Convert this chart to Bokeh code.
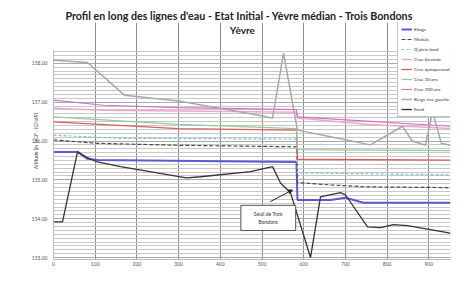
from bokeh.plotting import figure
from bokeh.models import (Range1d, FixedTicker, NumeralTickFormatter, Legend, LegendItem,
                          Label, Arrow, NormalHead, Title)
from bokeh.embed import file_html
from bokeh.resources import INLINE

# ---------------- data (distance m, altitude m NGF) ----------------
x_ticks = [0, 100, 200, 300, 400, 500, 600, 700, 800, 900]
y_ticks = [153, 154, 155, 156, 157, 158]
y_min, y_max = 152.95, 158.33

etiage_x = [0, 57.6, 81.5, 105.5, 582.7, 585.0, 664.3, 700.2, 743.4, 952]
etiage_y = [155.72, 155.72, 155.54, 155.51, 155.46, 154.48, 154.48, 154.54, 154.41, 154.41]

module_x = [0, 105.5, 300, 582.7, 585.0, 664.3, 750, 952]
module_y = [156.03, 155.94, 155.89, 155.85, 154.93, 154.87, 154.82, 154.80]

pleinbord_x = [0, 160, 582.7, 585.0, 952]
pleinbord_y = [156.15, 156.07, 156.05, 155.18, 155.13]

biennale_x = [0, 120, 300, 582.7, 585.0, 750, 952]
biennale_y = [156.84, 156.79, 156.77, 156.74, 156.59, 156.43, 156.32]

quinq_x = [0, 300, 582.7, 585.0, 952]
quinq_y = [156.49, 156.32, 156.28, 155.53, 155.51]

dix_x = [0, 300, 582.7, 585.0, 952]
dix_y = [156.62, 156.43, 156.32, 155.78, 155.75]

cent_x = [0, 120, 300, 582.7, 585.0, 750, 952]
cent_y = [157.05, 156.92, 156.86, 156.81, 156.62, 156.51, 156.38]

berge_x = [0, 81.5, 170, 300, 472.4, 525.2, 551.6, 585.0, 664.3, 760.2, 836.9, 860, 892, 909, 930, 952]
berge_y = [158.08, 158.02, 157.18, 157.03, 156.70, 156.59, 158.26, 156.28, 156.11, 155.90, 156.38, 156.00, 155.89, 156.76, 155.94, 155.89]

fond_x = [0, 21.6, 57.6, 81.5, 105.5, 160.7, 318.9, 352.5, 472.4, 525.2, 544.4, 568.3,
          616.3, 640.3, 688.2, 700.2, 753.0, 784.2, 815.3, 848.9, 944.8, 952]
fond_y = [153.92, 153.92, 155.72, 155.57, 155.46, 155.34, 155.05, 155.08, 155.21, 155.34, 154.92, 154.67,
          153.00, 154.56, 154.67, 154.61, 153.79, 153.77, 153.85, 153.82, 153.64, 153.62]

labels = ["Etiage", "Module", "Q plein bord", "Crue biennale", "Crue quinquennale",
          "Crue 10 ans", "Crue 100 ans", "Berge rive gauche", "Fond"]

title1 = "Profil en long des lignes d'eau - Etat Initial  - Yèvre médian - Trois Bondons"
title2 = "Yèvre"
ytitle = "Altitude (m NGF - IGN69)"
annot = "Seuil de Trois\nBondons"

FONT = "Lato"

p = figure(width=453, height=268, output_backend="svg", toolbar_location=None,
           x_range=Range1d(0, 952), y_range=Range1d(y_min, 159.05),
           min_border_left=53, min_border_right=3, min_border_bottom=4, min_border_top=22,
           background_fill_color="white", border_fill_color="white")

p.add_layout(Title(text=title1, align="left", offset=12, text_font=FONT, text_font_size="10.7px",
                   text_font_style="bold", text_color="#222222", standoff=2), "above")

p.outline_line_color = None

# grids (limited to the data area below the second title line)
p.xgrid.ticker = FixedTicker(ticks=x_ticks)
p.xgrid.grid_line_color = "#8c8c8c"
p.xgrid.grid_line_width = 1
p.xgrid.bounds = (y_min, y_max)
p.ygrid.ticker = FixedTicker(ticks=y_ticks, minor_ticks=[153 + i * 0.1 for i in range(54)])
p.ygrid.grid_line_color = "#aaaaaa"
p.ygrid.minor_grid_line_color = "#c8c8c8"
p.ygrid.minor_grid_line_width = 1

# axes
p.xaxis.ticker = FixedTicker(ticks=x_ticks)
p.yaxis.ticker = FixedTicker(ticks=y_ticks)
p.yaxis.formatter = NumeralTickFormatter(format="0.00")
p.yaxis.bounds = (y_min, y_max)
for ax in (p.xaxis[0], p.yaxis[0]):
    ax.axis_line_color = "#bbbbbb"
    ax.major_tick_line_color = None
    ax.minor_tick_line_color = None
    ax.major_tick_out = 0
    ax.minor_tick_out = 0
    ax.major_tick_in = 0
    ax.minor_tick_in = 0
    ax.major_label_text_font = FONT
    ax.major_label_text_font_size = "5px"
    ax.major_label_text_color = "#555555"
    ax.major_label_standoff = 6
p.xaxis.major_label_standoff = 2
p.yaxis.axis_label = ytitle
p.yaxis.axis_label_text_font = FONT
p.yaxis.axis_label_text_font_size = "5px"
p.yaxis.axis_label_text_font_style = "normal"
p.yaxis.axis_label_text_color = "#444444"
p.yaxis.axis_label_standoff = -10

# second title line
p.add_layout(Label(x=453, y=158.85, text=title2, text_align="center", text_baseline="middle",
                   text_font=FONT, text_font_size="10px", text_font_style="bold", text_color="#222222"))

series = [
    (etiage_x, etiage_y, "#5a5ad6", 2.0, "solid"),
    (module_x, module_y, "#4a4a40", 1.2, "4 2"),
    (pleinbord_x, pleinbord_y, "#7cc8c8", 1.2, "3 2"),
    (biennale_x, biennale_y, "#f2a8c4", 1.5, "solid"),
    (quinq_x, quinq_y, "#e05a5a", 1.3, "solid"),
    (dix_x, dix_y, "#98c898", 1.2, "solid"),
    (cent_x, cent_y, "#d070c8", 1.2, "solid"),
    (berge_x, berge_y, "#a8a8a8", 1.5, "solid"),
    (fond_x, fond_y, "#333333", 1.3, "solid"),
]
items = []
for (xs, ys, c, w, d), lab in zip(series, labels):
    r = p.line(xs, ys, line_color=c, line_width=w, line_dash=d)
    items.append(LegendItem(label=lab, renderers=[r]))

legend = Legend(items=items, location=(344, 142), label_text_font=FONT, label_text_font_size="4.5px",
                label_text_color="#333333", glyph_width=11, glyph_height=8, label_height=8,
                label_standoff=2, spacing=2, padding=3, margin=0,
                border_line_color="#888888", background_fill_color="white", background_fill_alpha=1)
p.add_layout(legend, "center")

p.add_layout(Arrow(end=NormalHead(size=4, fill_color="#222222", line_color="#222222"),
                   x_start=520, y_start=154.44, x_end=573, y_end=154.74,
                   line_color="#222222", line_width=1))
p.add_layout(Label(x=515, y=154.02, text=annot, text_align="center",
                   text_baseline="middle", text_font=FONT, text_font_size="5px", text_color="#333333",
                   border_line_color="#555555", background_fill_color="white",
                   padding=dict(left=13, right=13, top=6, bottom=6)))

open("out.html", "w").write(file_html(p, INLINE))
